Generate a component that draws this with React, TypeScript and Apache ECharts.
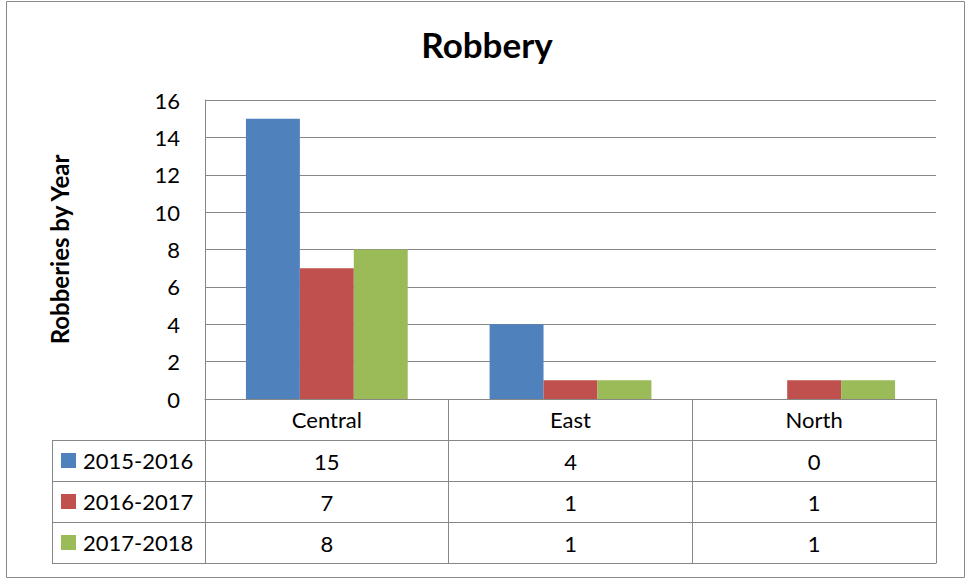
import React, { useEffect, useRef } from "react";
import * as echarts from "echarts";

const titleText = "Robbery";
const yAxisName = "Robberies by Year";
const categories = ["Central", "East", "North"];
const seriesNames = ["2015-2016", "2016-2017", "2017-2018"];
const values2015to2016 = [15, 4, 0];
const values2016to2017 = [7, 1, 1];
const values2017to2018 = [8, 1, 1];
const seriesColors = ["#4F81BD", "#C0504D", "#9BBB59"];
const yMin = 0;
const yMax = 16;
const yInterval = 2;

const FONT = "Lato";
const LINE = "#878787";

const GRID_LEFT = 205;
const GRID_TOP = 100;
const GRID_RIGHT = 936;
const GRID_BOTTOM = 399;
const TABLE_LEFT = 52;
const HEADER_BOTTOM = 440;
const ROW_H = 41;

export default function App() {
  const ref = useRef<HTMLDivElement>(null);

  useEffect(() => {
    if (!ref.current) return;
    const chart = echarts.init(ref.current, undefined, { renderer: "svg" });
    const allValues = [values2015to2016, values2016to2017, values2017to2018];

    const option: any = {
      animation: false,
      backgroundColor: "#ffffff",
      textStyle: { fontFamily: FONT },
      title: {
        text: titleText,
        left: 487,
        textAlign: "center",
        top: 26,
        padding: 0,
        textStyle: { fontFamily: FONT, fontSize: 35, fontWeight: "bold", color: "#000" },
      },
      legend: {
        orient: "vertical",
        left: 61,
        top: 449,
        padding: 0,
        itemWidth: 15,
        itemHeight: 15,
        itemGap: ROW_H - 23,
        icon: "rect",
        data: seriesNames,
        textStyle: { fontFamily: FONT, fontSize: 22, color: "#000", lineHeight: 23, padding: [0, 0, 0, 2] },
      },
      grid: {
        left: GRID_LEFT,
        top: GRID_TOP,
        width: GRID_RIGHT - GRID_LEFT,
        height: GRID_BOTTOM - GRID_TOP,
        containLabel: false,
      },
      xAxis: {
        type: "category",
        data: categories,
        axisLine: { show: true, lineStyle: { color: LINE, width: 1 } },
        axisTick: {
          show: true,
          alignWithLabel: false,
          length: HEADER_BOTTOM + ROW_H * 3 - GRID_BOTTOM,
          lineStyle: { color: LINE, width: 1 },
        },
        axisLabel: {
          fontFamily: FONT,
          fontSize: 22,
          color: "#000",
          margin: 20,
          verticalAlign: "middle",
        },
        splitLine: { show: false },
      },
      yAxis: {
        type: "value",
        min: yMin,
        max: yMax,
        interval: yInterval,
        name: yAxisName,
        nameLocation: "middle",
        nameRotate: 90,
        nameGap: 134,
        nameTextStyle: { fontFamily: FONT, fontSize: 24, fontWeight: "bold", color: "#000" },
        axisLine: { show: true, lineStyle: { color: LINE, width: 1 } },
        axisTick: { show: false },
        axisLabel: { fontFamily: FONT, fontSize: 22, color: "#000", margin: 25 },
        splitLine: { show: true, lineStyle: { color: LINE, width: 1 } },
      },
      series: seriesNames.map((name, i) => ({
        name,
        type: "bar",
        data: allValues[i],
        barGap: "0%",
        barCategoryGap: "33.6%",
        itemStyle: { color: seriesColors[i] },
      })),
    };

    chart.setOption(option);

    const graphics: any[] = [];
    graphics.push({
      type: "rect",
      shape: { x: 6.5, y: 1.5, width: 958, height: 576 },
      style: { fill: "none", stroke: "#888888", lineWidth: 1 },
      silent: true,
    });
    for (let r = 0; r < 4; r++) {
      const y = HEADER_BOTTOM + r * ROW_H + 0.5;
      graphics.push({
        type: "line",
        shape: { x1: TABLE_LEFT, y1: y, x2: GRID_RIGHT + 0.5, y2: y },
        style: { stroke: LINE, lineWidth: 1 },
        silent: true,
      });
    }
    graphics.push({
      type: "line",
      shape: { x1: TABLE_LEFT + 0.5, y1: HEADER_BOTTOM, x2: TABLE_LEFT + 0.5, y2: HEADER_BOTTOM + 3 * ROW_H + 0.5 },
      style: { stroke: LINE, lineWidth: 1 },
      silent: true,
    });
    allValues.forEach((vals, r) => {
      vals.forEach((v, c) => {
        const px = chart.convertToPixel({ xAxisIndex: 0 }, categories[c]) as number;
        graphics.push({
          type: "text",
          x: px,
          y: HEADER_BOTTOM + r * ROW_H + ROW_H / 2 + 1,
          style: {
            text: String(v),
            fontFamily: FONT,
            fontSize: 22,
            fill: "#000",
            textAlign: "center",
            textVerticalAlign: "middle",
          },
          silent: true,
        });
      });
    });
    chart.setOption({ graphic: graphics });

    return () => chart.dispose();
  }, []);

  return (
    <div
      ref={ref}
      style={{ position: "fixed", left: 0, top: 0, width: 966, height: 579 }}
    />
  );
}
